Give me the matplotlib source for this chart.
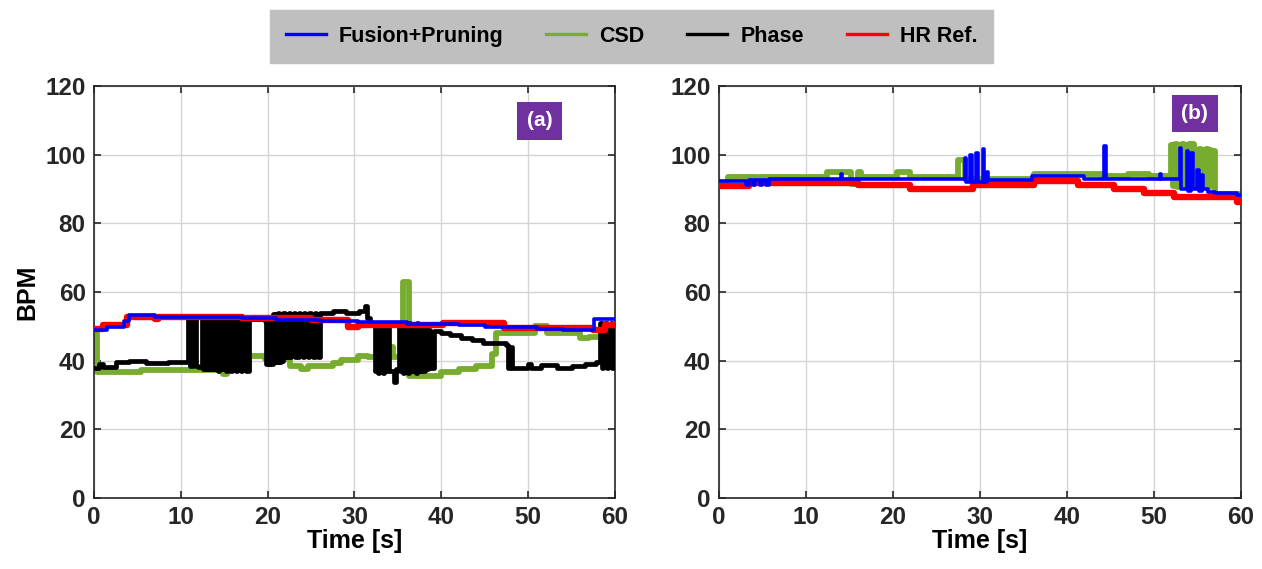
import matplotlib
matplotlib.use('Agg')
import matplotlib.pyplot as plt

plt.rcParams['font.family'] = ['Liberation Sans', 'DejaVu Sans']
plt.rcParams['font.weight'] = 'bold'

# ---- panel (a) ----
a_ref_t = [0, 1.0, 3.8, 7.0, 7.4, 17.0, 25.0, 29.3, 30.4, 40.2, 47.2, 57.5, 58.8, 60]
a_ref_v = [49.2, 50.5, 52.8, 52.2, 52.8, 52.3, 51.8, 49.8, 50.4, 50.9, 49.5, 48.8, 50.5, 50.5]

a_fus_t = [0, 1.5, 3.5, 4.0, 7.0, 12.0, 17.0, 21.0, 26.0, 30.4, 36.0, 42.0, 45.0, 51.0, 54.0, 57.6, 60]
a_fus_v = [49.0, 49.8, 51.5, 53.2, 52.8, 52.6, 52.3, 51.9, 51.6, 51.2, 50.6, 50.3, 49.7, 49.3, 49.0, 52.0, 52.0]

a_csd_t = [0, 0.4, 5.4, 11.0, 14.8, 15.3, 17.9, 19.7, 22.6, 23.8, 24.6, 27.5, 28.5, 30.4,
           31.5, 33.6, 34.4, 35.6, 36.3, 40.0, 42.0, 44.0, 45.8, 46.3, 50.8, 52.2, 56.0, 57.0, 58.5, 60]
a_csd_v = [48.0, 36.6, 37.3, 37.4, 36.0, 37.4, 41.3, 40.5, 38.5, 37.6, 38.5, 39.3, 40.3, 41.3,
           41.0, 44.0, 41.0, 63.0, 35.6, 36.8, 37.5, 38.3, 42.0, 48.0, 50.2, 48.0, 46.5, 47.0, 48.0, 48.0]

a_pha_t = [0, 0.6, 1.0, 2.5, 4.0, 6.0, 8.5, 10.8, 11.1, 11.4, 11.7, 12.0,
           12.4, 12.55, 12.7, 12.85, 13.0, 13.1, 13.25, 13.4, 13.5, 13.65, 13.8, 13.95, 14.1, 14.25,
           14.4, 14.5, 14.65, 14.8, 15.0, 15.15, 15.3, 15.4, 15.55, 15.7, 15.85, 16.0, 16.15,
           16.3, 16.45, 16.6, 16.75, 16.9, 17.05, 17.2, 17.35, 17.5,
           17.9, 19.7, 19.85, 20.0, 20.15, 20.3, 20.45, 20.6, 20.75, 20.9, 21.05, 21.2, 21.35,
           21.5, 21.65, 21.8, 21.95, 22.1, 22.25, 22.4, 22.55, 22.7, 22.85, 23.0, 23.15, 23.3,
           23.45, 23.6, 23.75, 23.9, 24.05, 24.2, 24.35, 24.5, 24.65, 24.8, 24.95, 25.1, 25.25,
           25.4, 25.55, 25.7, 25.85, 26.0, 26.1, 27.5, 29.0, 30.5, 31.2, 31.4, 31.8,
           32.4, 32.55, 32.7, 32.85, 33.0, 33.15, 33.3, 33.45, 33.6, 33.75, 34.0, 34.6, 34.8, 35.1,
           35.25, 35.4, 35.55, 35.7, 35.85, 36.0, 36.15, 36.3, 36.45, 36.6, 36.75, 36.9, 37.05,
           37.2, 37.35, 37.5, 37.65, 37.8, 37.95, 38.1, 38.3, 38.5, 38.7,
           39.2, 40.0, 41.0, 42.3, 43.5, 44.8, 47.5, 47.7, 47.9, 48.1, 48.3, 50.0, 50.3, 51.5,
           53.0, 53.3, 55.0, 56.5, 57.8,
           58.3, 58.45, 58.6, 58.75, 58.9, 59.05, 59.2, 59.35, 59.5, 59.65, 59.8, 60]
a_pha_v = [38.0, 39.0, 38.2, 39.5, 39.8, 39.4, 39.7, 52.0, 38.5, 52.0, 38.5, 38.2,
           52.0, 37.5, 51.5, 37.5, 52.0, 37.5, 51.0, 37.5, 52.0, 37.5, 51.5, 37.5, 52.0, 37.0,
           51.5, 37.5, 52.0, 37.5, 51.5, 37.0, 52.0, 37.5, 51.5, 37.0, 52.0, 37.5, 51.0,
           37.0, 52.0, 37.5, 51.5, 37.0, 52.0, 37.5, 51.5, 37.0,
           52.0, 51.5, 39.0, 52.0, 39.0, 52.5, 39.0, 53.5, 39.5, 53.5, 39.5, 54.0, 39.5,
           53.5, 40.0, 54.0, 41.0, 53.5, 41.0, 54.0, 41.0, 53.5, 41.5, 54.0, 41.0, 53.5,
           41.0, 54.0, 41.5, 53.5, 41.0, 54.0, 41.5, 53.5, 41.0, 54.0, 41.5, 53.5, 41.0,
           54.0, 41.5, 53.5, 41.0, 54.0, 53.8, 54.5, 54.0, 54.6, 56.0, 52.5, 51.0,
           37.0, 51.0, 36.5, 50.5, 37.0, 51.0, 36.5, 50.0, 37.0, 49.5, 37.0, 33.8, 37.5, 51.0,
           37.0, 50.5, 36.5, 51.0, 37.0, 50.5, 36.5, 51.0, 37.0, 50.0, 37.0, 50.5, 36.5,
           51.0, 37.0, 50.5, 37.0, 50.0, 37.0, 49.5, 37.5, 49.0, 38.0,
           48.5, 48.0, 47.5, 46.5, 46.0, 45.0, 44.5, 38.0, 44.0, 38.0, 38.0, 39.0, 38.0, 38.6,
           38.8, 38.0, 38.3, 38.9, 39.5,
           51.0, 38.0, 50.5, 38.5, 51.0, 38.0, 50.0, 38.5, 51.0, 38.0, 50.5, 42.0]

# ---- panel (b) ----
b_ref_t = [0, 3.5, 16.0, 22.0, 29.2, 36.2, 41.3, 45.4, 48.9, 52.3, 59.6, 60]
b_ref_v = [91.0, 91.8, 91.2, 90.0, 91.2, 92.3, 91.2, 90.0, 88.8, 87.7, 86.3, 86.3]

b_fus_t = [0, 3.1, 3.4, 3.9, 4.2, 4.7, 5.0, 5.4, 5.7, 14.0, 14.2, 22.0, 28.3, 28.45, 28.9, 29.05,
           29.6, 29.75, 30.3, 30.45, 30.8, 30.95, 36.0, 42.0, 44.3, 44.45, 50.7, 50.85, 52.5,
           53.0, 53.15, 53.8, 53.95, 54.3, 54.45, 55.0, 55.15, 55.5, 55.65, 56.2, 57.0, 59.5, 60]
b_fus_v = [92.3, 91.2, 92.6, 91.2, 92.6, 91.2, 92.6, 91.2, 93.0, 94.5, 93.0, 92.8, 99.0, 92.0, 100.0, 92.0,
           100.5, 92.0, 101.5, 92.0, 95.0, 92.5, 93.8, 93.0, 102.5, 93.0, 94.5, 93.0, 92.8,
           102.0, 90.0, 101.0, 89.5, 100.5, 90.0, 95.5, 89.5, 94.0, 90.0, 89.0, 88.8, 88.3, 88.3]

b_csd_t = [0, 1.0, 3.2, 3.5, 4.4, 4.7, 12.4, 15.2, 16.0, 16.3, 20.5, 22.0, 27.5, 28.3, 36.2, 44.0,
           47.0, 49.4, 52.0, 52.2, 52.4, 52.6, 52.8, 53.0, 53.2, 53.4, 53.6, 53.8, 54.0, 54.2,
           54.4, 54.6, 54.8, 55.0, 55.2, 55.4, 55.6, 55.8, 56.0, 56.2, 56.4, 56.6, 56.8, 57.0, 60]
b_csd_v = [91.8, 93.5, 91.8, 93.5, 91.8, 93.5, 94.8, 91.5, 94.8, 93.5, 94.8, 93.5, 98.5, 93.0, 94.5, 93.8,
           94.4, 93.8, 102.8, 91.0, 103.0, 90.5, 102.8, 91.0, 103.0, 90.5, 102.8, 91.0, 103.0, 91.0,
           103.0, 90.5, 101.3, 91.0, 101.5, 90.5, 101.3, 91.0, 101.5, 90.5, 101.3, 91.0, 101.0, 88.6, 88.4]

x_ticks = [0, 10, 20, 30, 40, 50, 60]
y_ticks = [0, 20, 40, 60, 80, 100, 120]

fig = plt.figure(figsize=(12.62, 5.69), dpi=100)
ax_a = fig.add_axes([0.0745, 0.1248, 0.4128, 0.7241])
ax_b = fig.add_axes([0.5697, 0.1248, 0.4136, 0.7241])

purple = '#7030a0'
green = '#77ac30'

for ax in (ax_a, ax_b):
    ax.set_xlim(0, 60)
    ax.set_ylim(0, 120)
    ax.set_xticks(x_ticks)
    ax.set_yticks(y_ticks)
    ax.grid(True, color='#d4d4d4', linewidth=1.0)
    ax.set_axisbelow(True)
    ax.tick_params(direction='in', top=True, right=True, labelsize=17.5, length=5,
                   width=1.2, colors='#262626', pad=6)
    for lab in ax.get_xticklabels() + ax.get_yticklabels():
        lab.set_fontweight('bold')
    for s in ax.spines.values():
        s.set_color('#262626')
        s.set_linewidth(1.2)
    ax.set_xlabel('Time [s]', fontsize=18, fontweight='bold', labelpad=0)

ax_a.step(a_csd_t, a_csd_v, where='post', color=green, lw=4.2, zorder=2)
ax_a.step(a_pha_t, a_pha_v, where='post', color='black', lw=3.4, zorder=3)
ax_a.step(a_ref_t, a_ref_v, where='post', color='red', lw=4.6, zorder=4)
ax_a.step(a_fus_t, a_fus_v, where='post', color='blue', lw=2.6, zorder=5)

ax_b.step(b_csd_t, b_csd_v, where='post', color=green, lw=4.2, zorder=2)
ax_b.step(b_ref_t, b_ref_v, where='post', color='red', lw=4.6, zorder=4)
ax_b.step(b_fus_t, b_fus_v, where='post', color='blue', lw=2.6, zorder=5)

ax_a.set_ylabel('BPM', fontsize=18, fontweight='bold', labelpad=4)

ax_a.text(51.3, 109.8, '(a)', color='white', fontsize=15, fontweight='bold', ha='center', va='center',
          bbox=dict(facecolor=purple, edgecolor='none', boxstyle='square,pad=0.45'), zorder=6)
ax_b.text(54.7, 112.0, '(b)', color='white', fontsize=15, fontweight='bold', ha='center', va='center',
          bbox=dict(facecolor=purple, edgecolor='none', boxstyle='square,pad=0.45'), zorder=6)

handles = [plt.Line2D([], [], color='blue', lw=2.4),
           plt.Line2D([], [], color=green, lw=2.4),
           plt.Line2D([], [], color='black', lw=2.4),
           plt.Line2D([], [], color='red', lw=2.4)]
labels = ['Fusion+Pruning', 'CSD', 'Phase', 'HR Ref.']
leg = fig.legend(handles, labels, ncol=4, loc='center', bbox_to_anchor=(0.5004, 0.9359),
                 prop={'size': 15.5, 'weight': 'bold'}, frameon=True, fancybox=False,
                 facecolor='#bfbfbf', edgecolor='#bfbfbf', framealpha=1, handlelength=1.85,
                 handletextpad=0.6, columnspacing=2.0, borderpad=0.75)

fig.savefig('out.png', dpi=100)
